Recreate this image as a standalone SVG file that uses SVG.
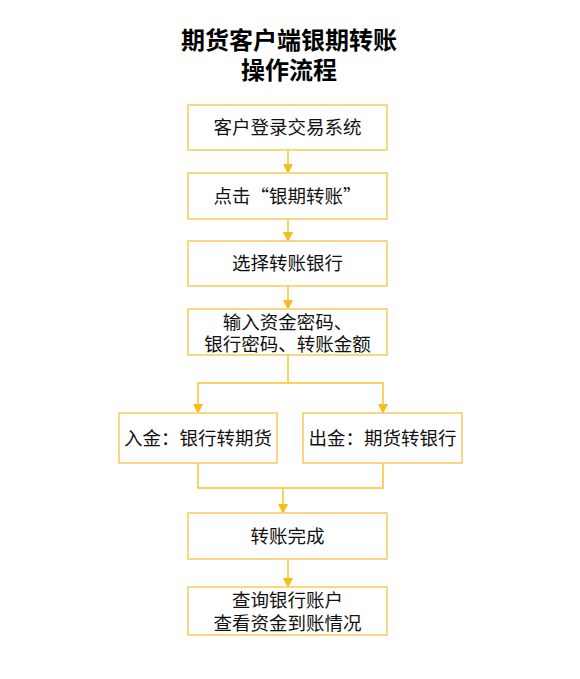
<svg xmlns="http://www.w3.org/2000/svg" width="580" height="679" viewBox="0 0 580 679">
<defs>
<style>
.box{fill:#fff;stroke:#F7CB59;stroke-width:1.5}
.t{font-family:"Noto Sans CJK SC","Noto Sans",sans-serif;font-size:18.5px;fill:#111;text-anchor:middle}
.title{font-family:"Noto Sans CJK SC","Noto Sans",sans-serif;font-size:24px;font-weight:bold;fill:#000;text-anchor:middle}
.c{fill:none;stroke:#F7C430;stroke-width:1.5}
</style>
<marker id="ah" viewBox="0 0 10 10" refX="9" refY="5" markerWidth="10" markerHeight="10" markerUnits="userSpaceOnUse" orient="auto">
<path d="M0,0 L10,5 L0,10 z" fill="#F5BE1A"/>
</marker>
</defs>
<rect width="580" height="679" fill="#fff"/>
<g id="title">
<text class="title" x="289" y="49">期货客户端银期转账</text>
<text class="title" x="289" y="79">操作流程</text>
</g>
<g id="connectors">
<line class="c" x1="288" y1="150" x2="288" y2="173" marker-end="url(#ah)"/>
<line class="c" x1="288" y1="219" x2="288" y2="241" marker-end="url(#ah)"/>
<line class="c" x1="288" y1="286" x2="288" y2="309" marker-end="url(#ah)"/>
<polyline class="c" points="288,355 288,383 198,383 198,413" marker-end="url(#ah)"/>
<polyline class="c" points="288,383 383,383 383,413" marker-end="url(#ah)"/>
<polyline class="c" points="198,463 198,488 383,488 383,463"/>
<line class="c" x1="283" y1="488" x2="283" y2="513" marker-end="url(#ah)"/>
<line class="c" x1="288" y1="559" x2="288" y2="587" marker-end="url(#ah)"/>
</g>
<g id="n1"><rect class="box" x="188" y="105" width="199" height="45"/><text class="t" x="287.5" y="134">客户登录交易系统</text></g>
<g id="n2"><rect class="box" x="188" y="173" width="199" height="46"/><text class="t" x="287.5" y="203">点击“银期转账”</text></g>
<g id="n3"><rect class="box" x="188" y="241" width="199" height="45"/><text class="t" x="287.5" y="270">选择转账银行</text></g>
<g id="n4"><rect class="box" x="188" y="309" width="199" height="46"/><text class="t" x="287.5" y="329">输入资金密码、</text><text class="t" x="287.5" y="351">银行密码、转账金额</text></g>
<g id="n5"><rect class="box" x="119" y="413" width="158" height="50"/><text class="t" x="198" y="445">入金：银行转期货</text></g>
<g id="n6"><rect class="box" x="303" y="413" width="159" height="50"/><text class="t" x="382.5" y="445">出金：期货转银行</text></g>
<g id="n7"><rect class="box" x="188" y="513" width="199" height="46"/><text class="t" x="287.5" y="543">转账完成</text></g>
<g id="n8"><rect class="box" x="188" y="587" width="199" height="48"/><text class="t" x="287.5" y="607">查询银行账户</text><text class="t" x="287.5" y="630">查看资金到账情况</text></g>
</svg>
